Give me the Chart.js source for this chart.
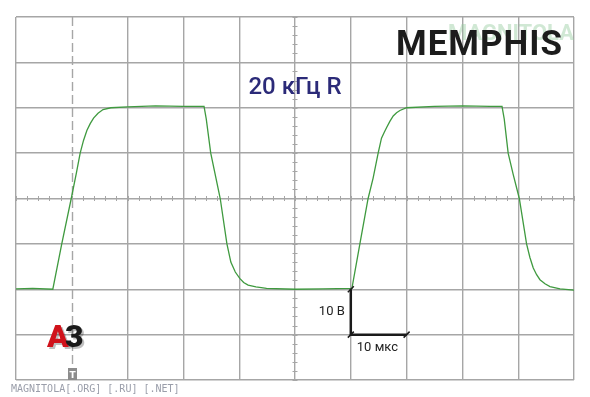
<!DOCTYPE html>
<html>
<head>
<meta charset="utf-8">
<script src="https://cdn.jsdelivr.net/npm/chart.js@4"></script>
<style>
  body { margin: 0; background: #fff; }
  canvas { display: block; }
</style>
</head>
<body>
<canvas id="scope" width="590" height="397"></canvas>
<script>
// screen in divisions: 10 across, 8 high (centre = 0)
const timeDiv = [0, 0.3, 0.66, 0.82, 0.99, 1.08, 1.15, 1.21, 1.27, 1.33, 1.39, 1.47, 1.56, 1.7, 2.0, 2.5, 3.0, 3.37,
  3.41, 3.49, 3.66, 3.78, 3.85, 3.93, 4.01, 4.08, 4.16, 4.3, 4.49, 5.0, 5.5, 6.02,
  6.17, 6.31, 6.4, 6.49, 6.55, 6.6, 6.64, 6.7, 6.76, 6.82, 6.88, 7.0, 7.5, 8.0, 8.5, 8.71,
  8.75, 8.82, 8.91, 9.02, 9.15, 9.21, 9.27, 9.33, 9.39, 9.48, 9.57, 9.75, 10.0];
const voltDiv = [-1.99, -1.98, -2.0, -1.0, 0.0, 0.55, 1.0, 1.28, 1.5, 1.65, 1.77, 1.88, 1.96, 2.0, 2.02, 2.04, 2.03, 2.03,
  1.75, 1.0, 0.0, -1.0, -1.4, -1.62, -1.76, -1.85, -1.91, -1.95, -1.98, -2.0, -1.99, -1.98,
  -0.95, 0.0, 0.45, 1.0, 1.33, 1.46, 1.56, 1.7, 1.82, 1.89, 1.94, 2.0, 2.03, 2.04, 2.03, 2.03,
  1.75, 1.0, 0.53, 0.0, -1.0, -1.3, -1.53, -1.68, -1.79, -1.88, -1.94, -1.99, -2.02];

const xRange = [0, 10];
const yRange = [-4, 4];
const triggerDiv = 1;
// scale marker: 1 div = 10 В, 1 div = 10 мкс
const markerOrigin = [6, -3];
const markerLabels = ["10 В", "10 мкс"];
const titleText = "20 кГц R";
const brandText = "MEMPHIS";
const footerText = "MAGNITOLA[.ORG] [.RU] [.NET]";

const gridColor = "#a6a6a6";

const points = timeDiv.map((t, i) => ({ x: t, y: voltDiv[i] }));

const scopeDecor = {
  id: "scopeDecor",
  beforeDraw(chart) {
    const c = chart.ctx;
    c.save();
    c.fillStyle = "#fff";
    c.fillRect(0, 0, chart.width, chart.height);
    c.restore();
  },
  beforeDatasetsDraw(chart) {
    const c = chart.ctx;
    const xs = chart.scales.x, ys = chart.scales.y;
    const area = chart.chartArea;
    c.save();
    // trigger line
    c.strokeStyle = gridColor;
    c.lineWidth = 1.4;
    c.setLineDash([9, 4]);
    const tx = Math.round(xs.getPixelForValue(triggerDiv)) + 0.5;
    c.beginPath();
    c.moveTo(tx, area.top);
    c.lineTo(tx, area.bottom);
    c.stroke();
    c.setLineDash([]);
    // minor ticks on centre lines
    const cx = xs.getPixelForValue(5), cy = ys.getPixelForValue(0);
    c.lineWidth = 1;
    c.beginPath();
    for (let v = xRange[0]; v <= xRange[1] + 0.001; v += 0.2) {
      const px = Math.round(xs.getPixelForValue(v)) + 0.5;
      c.moveTo(px, cy - 2.5);
      c.lineTo(px, cy + 2.5);
    }
    for (let v = yRange[0]; v <= yRange[1] + 0.001; v += 0.2) {
      const py = Math.round(ys.getPixelForValue(v)) + 0.5;
      c.moveTo(cx - 2.5, py);
      c.lineTo(cx + 2.5, py);
    }
    c.stroke();
    c.restore();
  },
  afterDatasetsDraw(chart) {
    const c = chart.ctx;
    const xs = chart.scales.x, ys = chart.scales.y;
    const area = chart.chartArea;
    c.save();

    // scale marker
    const x0 = xs.getPixelForValue(markerOrigin[0]);
    const y0 = ys.getPixelForValue(markerOrigin[1]);
    const yTop = ys.getPixelForValue(markerOrigin[1] + 1);
    const x1 = xs.getPixelForValue(markerOrigin[0] + 1);
    c.strokeStyle = "#1a1a1a";
    c.lineWidth = 2.5;
    c.beginPath();
    c.moveTo(x0, yTop);
    c.lineTo(x0, y0);
    c.lineTo(x1, y0);
    c.stroke();
    c.lineWidth = 1.5;
    c.beginPath();
    [[x0, yTop], [x0, y0], [x1, y0]].forEach(p => {
      c.moveTo(p[0] - 3, p[1] + 3);
      c.lineTo(p[0] + 3, p[1] - 3);
    });
    c.stroke();
    c.fillStyle = "#222";
    c.font = "13px Roboto";
    c.textBaseline = "middle";
    c.textAlign = "right";
    c.fillText(markerLabels[0], x0 - 6, (yTop + y0) / 2);
    c.textAlign = "left";
    c.fillText(markerLabels[1], x0 + 6, y0 + 13);

    // title
    c.fillStyle = "#2b2a78";
    c.font = "500 24px Roboto";
    c.textAlign = "center";
    c.textBaseline = "alphabetic";
    c.fillText(titleText, 295, 94);

    // watermark + brand
    c.fillStyle = "rgba(150, 205, 160, 0.45)";
    c.font = "bold 22px 'Liberation Sans Narrow', Roboto";
    c.textAlign = "right";
    c.fillText("MAGNITOLA", 574, 40);
    c.fillStyle = "#1c1c1c";
    c.font = "bold 35px Roboto";
    c.letterSpacing = "1px";
    c.textAlign = "left";
    c.fillText(brandText, 396, 55);
    c.letterSpacing = "0px";

    // A3 logo
    c.font = "900 32px Roboto";
    c.fillStyle = "rgba(0,0,0,0.25)";
    c.fillText("A", 49, 349);
    c.fillText("3", 67, 349);
    c.fillStyle = "#d0121b";
    c.fillText("A", 47, 347);
    c.fillStyle = "#1a1a1a";
    c.fillText("3", 65, 347);

    // trigger marker
    const tx = Math.round(xs.getPixelForValue(triggerDiv));
    c.fillStyle = "#8c8c8c";
    c.fillRect(tx - 4, area.bottom - 12, 9, 12);
    c.fillStyle = "#fff";
    c.font = "bold 9px 'DejaVu Sans'";
    c.textAlign = "center";
    c.fillText("T", tx + 0.5, area.bottom - 2.5);

    // footer
    c.fillStyle = "#9a9eaa";
    c.font = "10px 'DejaVu Sans Mono'";
    c.textAlign = "left";
    c.fillText(footerText, 11, 392);
    c.restore();
  }
};

new Chart(document.getElementById("scope"), {
  type: "line",
  data: {
    datasets: [{
      data: points,
      borderColor: "#3f9a3f",
      borderWidth: 1.3,
      pointRadius: 0,
      tension: 0,
      fill: false
    }]
  },
  options: {
    responsive: false,
    animation: false,
    devicePixelRatio: 1,
    layout: { padding: { left: 16, right: 16, top: 17, bottom: 17 } },
    plugins: { legend: { display: false }, tooltip: { enabled: false }, title: { display: false } },
    scales: {
      x: {
        type: "linear",
        min: xRange[0],
        max: xRange[1],
        ticks: { display: false, stepSize: 1 },
        border: { display: false },
        grid: {
          drawTicks: false,
          lineWidth: 1.4,
          color: ctx => (ctx.tick && ctx.tick.value === triggerDiv ? "rgba(0,0,0,0)" : gridColor)
        }
      },
      y: {
        type: "linear",
        min: yRange[0],
        max: yRange[1],
        ticks: { display: false, stepSize: 1 },
        border: { display: false },
        grid: { drawTicks: false, lineWidth: 1.4, color: gridColor }
      }
    }
  },
  plugins: [scopeDecor]
});
</script>
</body>
</html>
